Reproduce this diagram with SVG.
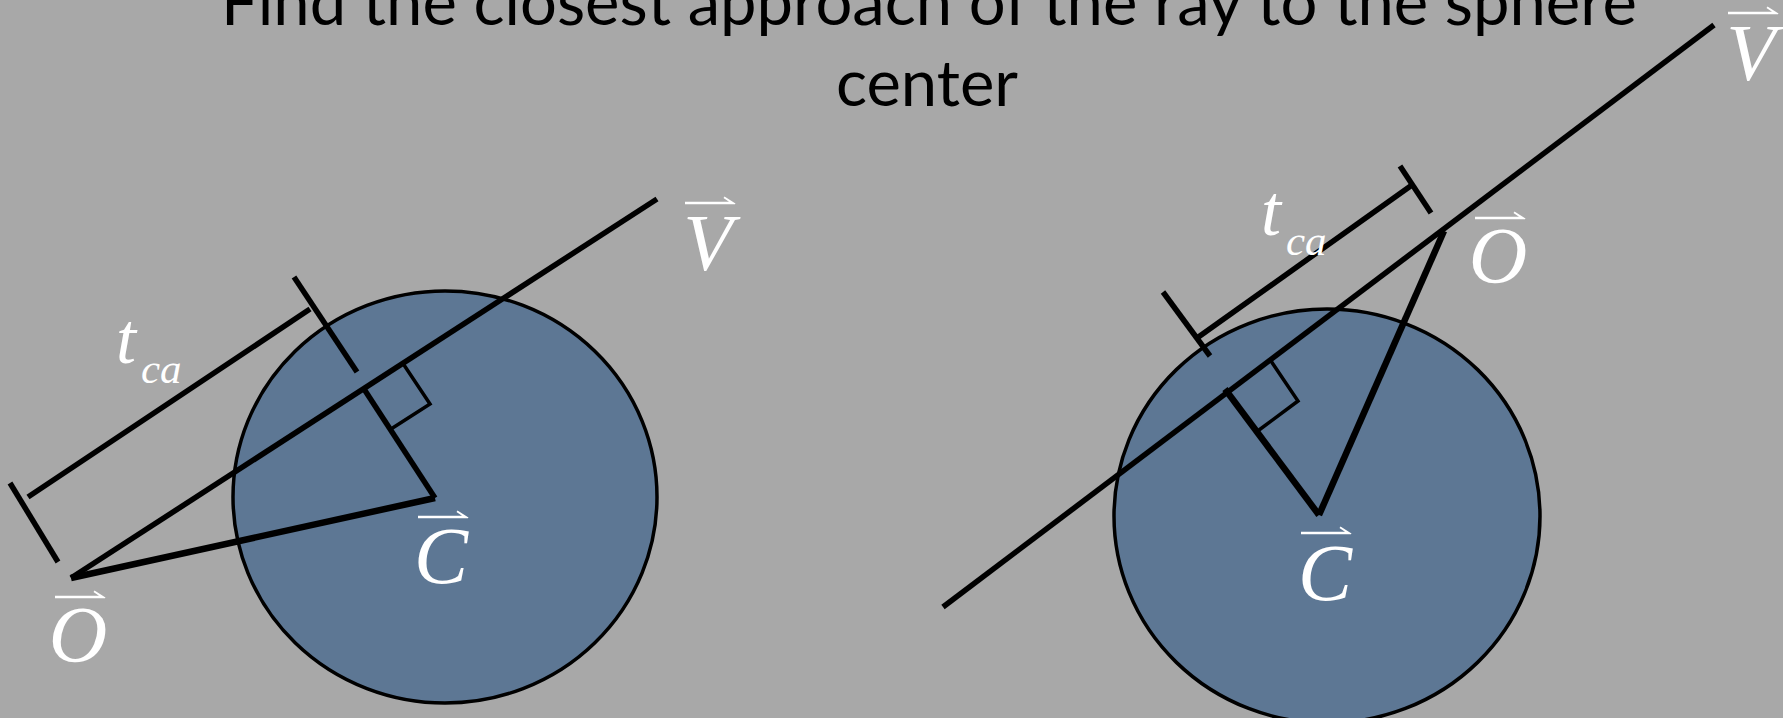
<svg xmlns="http://www.w3.org/2000/svg" xmlns:xlink="http://www.w3.org/1999/xlink" width="1783" height="718" viewBox="0 0 1783 718">
<style>
.title{font-family:Lato,"Open Sans","Liberation Sans",sans-serif;font-size:64px;fill:#000}
.m{font-family:"Liberation Serif","Times New Roman",serif;font-style:italic;fill:#fff}
.big{font-size:81px}
.t{font-size:72px}
.sub{font-size:43px}
.ln{stroke:#000;stroke-width:5.5;fill:none;stroke-linecap:butt}
.thick{stroke-width:6.5}
.sq{stroke:#000;stroke-width:3.5;fill:none}
.sphere{fill:#5d7794;stroke:#000;stroke-width:3.5}
.vec{fill:#fff}
</style>
<defs>
<path id="vec" d="M0,-1.3 L44,-1.3 L38.5,-5 L39.5,-6.4 L50.5,0.4 L50,1.3 L0,1.3 Z"/>
</defs>
<rect x="0" y="0" width="1783" height="718" fill="#a8a8a8"/>
<g id="title">
<text class="title" x="221" y="25" textLength="1416" lengthAdjust="spacingAndGlyphs">Find the closest approach of the ray to the sphere</text>
<text class="title" x="836" y="106" textLength="182" lengthAdjust="spacingAndGlyphs">center</text>
</g>
<g id="sphere-left"><ellipse class="sphere" cx="445" cy="497" rx="212" ry="206"/></g>
<g id="sphere-right"><ellipse class="sphere" cx="1327" cy="516" rx="213" ry="207"/></g>
<g id="connectors">
<line class="ln" x1="71" y1="578" x2="657" y2="199"/>
<line class="ln thick" x1="71" y1="578" x2="435" y2="498"/>
<line class="ln" x1="435" y1="498" x2="364" y2="389"/>
<polyline class="sq" points="404,365 430,404 391,429"/>
<line class="ln" x1="28" y1="497" x2="310" y2="309"/>
<line class="ln" x1="10" y1="483" x2="58" y2="562"/>
<line class="ln" x1="294" y1="277" x2="357" y2="372"/>
<line class="ln" x1="943" y1="607" x2="1714" y2="25"/>
<line class="ln thick" x1="1444" y1="231" x2="1319" y2="515"/>
<line class="ln thick" x1="1319" y1="515" x2="1225" y2="389"/>
<polyline class="sq" points="1271,361 1298,401 1259,430"/>
<line class="ln" x1="1197" y1="338" x2="1412" y2="185"/>
<line class="ln" x1="1163" y1="292" x2="1210" y2="356"/>
<line class="ln" x1="1400" y1="166" x2="1431" y2="213"/>
</g>
<g id="label-left-O"><use href="#vec" class="vec" x="55" y="597"/><text class="m big" x="78" y="662" text-anchor="middle">O</text></g>
<g id="label-left-C"><use href="#vec" class="vec" x="418" y="517"/><text class="m big" x="441" y="583" text-anchor="middle">C</text></g>
<g id="label-left-V"><use href="#vec" class="vec" x="685" y="203"/><text class="m big" x="708" y="270" text-anchor="middle">V</text></g>
<g id="label-left-tca"><text class="m t" x="116" y="363">t</text><text class="m sub" x="141" y="383">ca</text></g>
<g id="label-right-O"><use href="#vec" class="vec" x="1475" y="218"/><text class="m big" x="1498" y="283" text-anchor="middle">O</text></g>
<g id="label-right-C"><use href="#vec" class="vec" x="1301" y="533"/><text class="m big" x="1325" y="600" text-anchor="middle">C</text></g>
<g id="label-right-V"><use href="#vec" class="vec" x="1728" y="13"/><text class="m big" x="1751" y="80" text-anchor="middle">V</text></g>
<g id="label-right-tca"><text class="m t" x="1261" y="235">t</text><text class="m sub" x="1286" y="255">ca</text></g>
</svg>
